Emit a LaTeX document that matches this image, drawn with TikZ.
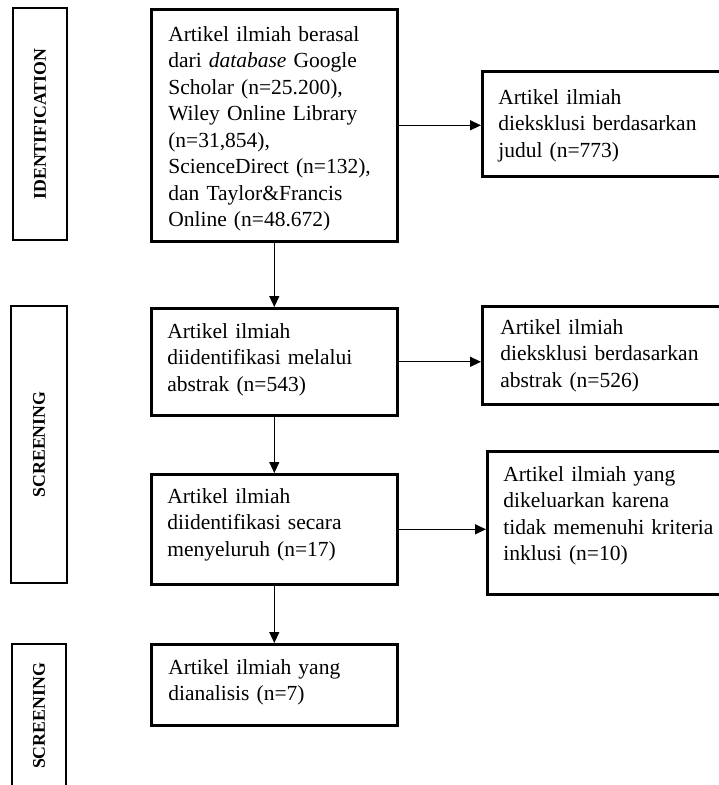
\documentclass[tikz,border=0pt]{standalone}
\usepackage{fontspec}
\setmainfont{Liberation Serif}
\usetikzlibrary{arrows.meta}
\begin{document}
\begin{tikzpicture}[x=1pt,y=-1pt,
  boxstyle/.style={draw,line width=2.6pt,anchor=north west,align=left,inner ysep=0pt,
    font=\fontsize{21.5}{26.5}\selectfont},
  stagebox/.style={draw,line width=2.6pt,rotate=90,inner sep=0pt,
    font=\fontsize{17.8}{20}\selectfont\bfseries},
  conn/.style={line width=1.3pt,-{Triangle[length=11pt,width=10pt]}}]
\useasboundingbox[fill=white] (0,0) rectangle (719,785);
% stage labels
\node[stagebox,minimum width=232pt,minimum height=54pt] (lab1) at (40,124) {IDENTIFICATION};
\node[stagebox,minimum width=277pt,minimum height=56pt] (lab2) at (39,444.5) {SCREENING};
\node[stagebox,minimum width=144pt,minimum height=54pt] (lab3) at (39,716) {SCREENING};
% main column
\node[boxstyle,inner xsep=17pt,text width=212pt,text height=32pt,text depth=200pt] (b1) at (150,8)
  {Artikel ilmiah berasal\\dari \textit{database} Google\\Scholar (n=25.200),\\Wiley Online Library\\(n=31,854),\\ScienceDirect (n=132),\\dan Taylor\&Francis\\Online (n=48.672)};
\node[boxstyle,inner xsep=16pt,text width=214pt,text height=30pt,text depth=77pt] (b2) at (150,307)
  {Artikel ilmiah\\diidentifikasi melalui\\abstrak (n=543)};
\node[boxstyle,inner xsep=16pt,text width=214pt,text height=29pt,text depth=81pt] (b3) at (150,473)
  {Artikel ilmiah\\diidentifikasi secara\\menyeluruh (n=17)};
\node[boxstyle,inner xsep=17pt,text width=212pt,text height=30pt,text depth=51pt] (b4) at (150,643)
  {Artikel ilmiah yang\\dianalisis (n=7)};
% right column
\node[boxstyle,inner xsep=16pt,text width=214pt,text height=33pt,text depth=72pt] (r1) at (481,70)
  {Artikel ilmiah\\dieksklusi berdasarkan\\judul (n=773)};
\node[boxstyle,inner xsep=18pt,text width=214pt,text height=28pt,text depth=70pt] (r2) at (481,305)
  {Artikel ilmiah\\dieksklusi berdasarkan\\abstrak (n=526)};
\node[boxstyle,inner xsep=16pt,text width=216pt,text height=30pt,text depth=113pt] (r3) at (486,450)
  {Artikel ilmiah yang\\dikeluarkan karena\\tidak memenuhi kriteria\\inklusi (n=10)};
% connectors
\draw[conn] (b1.south) -- (b2.north);
\draw[conn] (b2.south) -- (b3.north);
\draw[conn] (b3.south) -- (b4.north);
\draw[conn] (b1.east) -- (b1.east -| r1.west);
\draw[conn] (b2.east) -- (b2.east -| r2.west);
\draw[conn] (b3.east) -- (b3.east -| r3.west);
\end{tikzpicture}
\end{document}
